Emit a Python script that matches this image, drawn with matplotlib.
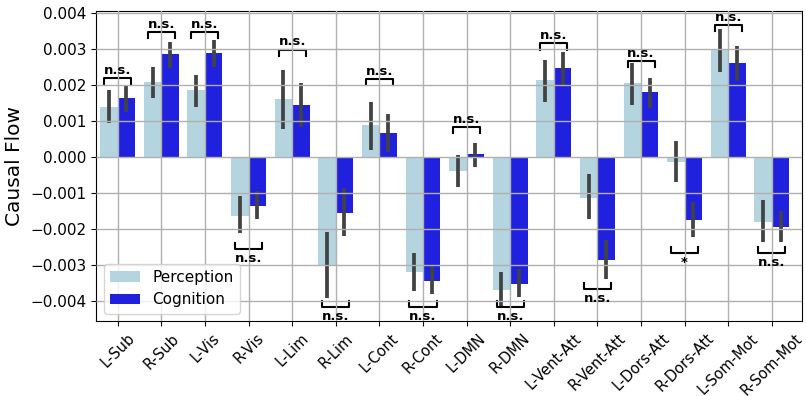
import numpy as np
import matplotlib.pyplot as plt

# Regions and per-condition mean causal flow
regions = ["L-Sub", "R-Sub", "L-Vis", "R-Vis", "L-Lim", "R-Lim", "L-Cont", "R-Cont",
           "L-DMN", "R-DMN", "L-Vent-Att", "R-Vent-Att", "L-Dors-Att", "R-Dors-Att",
           "L-Som-Mot", "R-Som-Mot"]

perception = [0.00139, 0.00208, 0.00186, -0.00163, 0.00161, -0.00300, 0.00089, -0.00319,
              -0.00038, -0.00369, 0.00214, -0.00113, 0.00206, -0.00013, 0.00297, -0.00180]
cognition = [0.00164, 0.00286, 0.00290, -0.00135, 0.00144, -0.00155, 0.00067, -0.00344,
             0.00008, -0.00353, 0.00247, -0.00286, 0.00181, -0.00175, 0.00261, -0.00194]

# 95% CI bounds
perc_lo = [0.00094, 0.00163, 0.00140, -0.00212, 0.00077, -0.00391, 0.00021, -0.00371,
           -0.00082, -0.00416, 0.00154, -0.00173, 0.00146, -0.00069, 0.00237, -0.00236]
perc_hi = [0.00186, 0.00251, 0.00228, -0.00108, 0.00242, -0.00209, 0.00154, -0.00266,
           0.00005, -0.00320, 0.00269, -0.00047, 0.00262, 0.00045, 0.00356, -0.00120]
cog_lo = [0.00126, 0.00248, 0.00251, -0.00172, 0.00084, -0.00219, 0.00015, -0.00381,
          -0.00027, -0.00390, 0.00200, -0.00338, 0.00137, -0.00223, 0.00211, -0.00236]
cog_hi = [0.00197, 0.00319, 0.00327, -0.00094, 0.00205, -0.00087, 0.00119, -0.00302,
          0.00038, -0.00312, 0.00293, -0.00231, 0.00221, -0.00125, 0.00308, -0.00150]

# significance labels and bracket levels
sig_labels = ["n.s.", "n.s.", "n.s.", "n.s.", "n.s.", "n.s.", "n.s.", "n.s.",
              "n.s.", "n.s.", "n.s.", "n.s.", "n.s.", "*", "n.s.", "n.s."]
bracket_y = [0.00219, 0.00348, 0.00348, -0.00256, 0.00299, -0.00417, 0.00217, -0.00417,
             0.00084, -0.00417, 0.00316, -0.00367, 0.00267, -0.00266, 0.00367, -0.00266]


def desaturate(rgb, prop):
    import colorsys
    h, l, s = colorsys.rgb_to_hls(*rgb)
    return colorsys.hls_to_rgb(h, l, s * prop)


c_perc = desaturate((173 / 255, 216 / 255, 230 / 255), 0.75)
c_cog = desaturate((0.0, 0.0, 1.0), 0.75)

fig = plt.figure(figsize=(8.06, 3.96), dpi=100)
ax = fig.add_axes([0.119, 0.189, 0.876, 0.783])

x = np.arange(len(regions))
w = 0.4
ax.bar(x - w / 2, perception, width=w, color=c_perc, label="Perception")
ax.bar(x + w / 2, cognition, width=w, color=c_cog, label="Cognition")
ax.vlines(x - w / 2, perc_lo, perc_hi, color="#424242", lw=2.7)
ax.vlines(x + w / 2, cog_lo, cog_hi, color="#424242", lw=2.7)

tip = 0.00017
half = 0.31
for xi, yb, lab in zip(x, bracket_y, sig_labels):
    if yb > 0:
        ax.plot([xi - half, xi - half, xi + half, xi + half],
                [yb - tip, yb, yb, yb - tip], color="black", lw=1.5, clip_on=False)
        ax.text(xi, yb + 0.00003, lab, ha="center", va="bottom", fontsize=9.5,
                fontweight="bold", clip_on=False)
    else:
        ax.plot([xi - half, xi - half, xi + half, xi + half],
                [yb + tip, yb, yb, yb + tip], color="black", lw=1.5, clip_on=False)
        ax.text(xi, yb - 0.00008, lab, ha="center", va="top", fontsize=9.5,
                fontweight="bold", clip_on=False)

ax.set_xticks(x)
ax.set_xticklabels(regions, rotation=45, fontsize=10.5)
ax.set_xlim(-0.5, 15.69)
ax.set_ylim(-0.00456, 0.00406)
ax.set_yticks([-0.004, -0.003, -0.002, -0.001, 0.0, 0.001, 0.002, 0.003, 0.004])
ax.set_yticklabels([f"{v:.3f}".replace("-", "\u2212") for v in ax.get_yticks()])
ax.tick_params(axis="y", labelsize=11)
ax.set_ylabel("Causal Flow", fontsize=14.5)
ax.grid(True, color="#b0b0b0", lw=1.0)
ax.set_axisbelow(False)
ax.legend(loc="lower left", fontsize=11, framealpha=0.8)

fig.savefig("out.png", dpi=100)
